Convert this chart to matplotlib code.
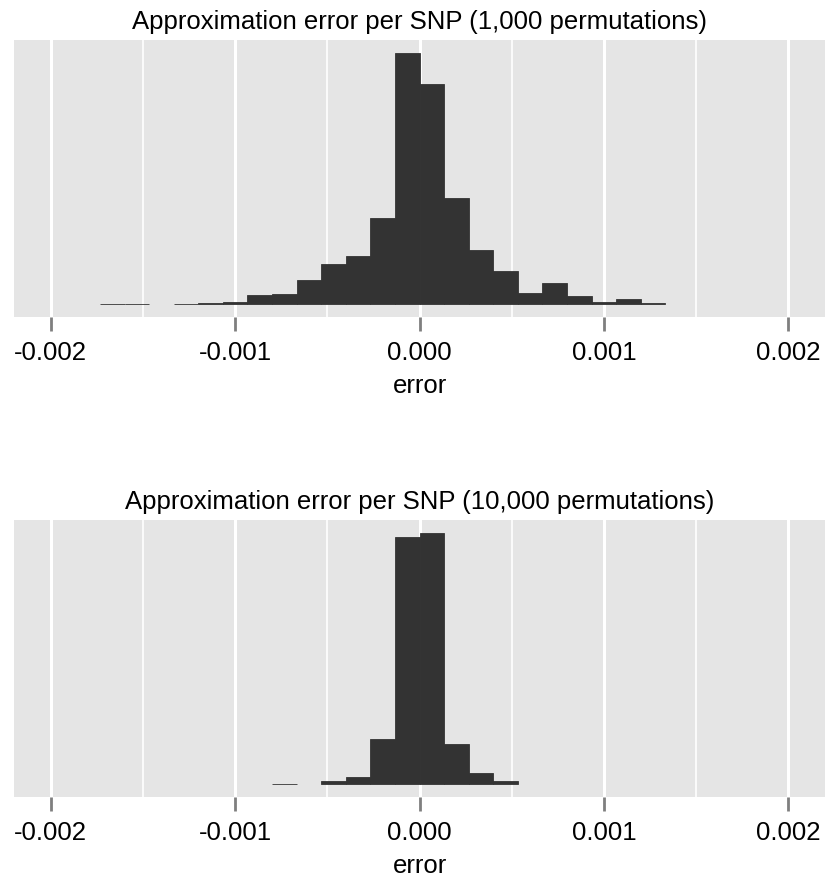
import numpy as np
import matplotlib.pyplot as plt

plt.rcParams['font.family'] = ['Liberation Sans', 'DejaVu Sans']

# histogram setup: 30 bins spanning -0.002 .. 0.002
bin_lo = -0.002
bin_hi = 0.002
n_bins = 30

# counts per bin
counts_1k = [0, 0, 1, 1, 0, 1, 3, 6, 28, 31, 72, 122, 146, 257, 753,
             658, 317, 163, 100, 33, 64, 24, 6, 16, 3, 0, 0, 0, 0, 0]
counts_10k = [0, 0, 0, 0, 0, 0, 0, 0, 0, 1, 0, 9, 22, 137, 743,
              755, 120, 34, 9, 0, 0, 0, 0, 0, 0, 0, 0, 0, 0, 0]

titles = ['Approximation error per SNP (1,000 permutations)',
          'Approximation error per SNP (10,000 permutations)']
major_ticks = [-0.002, -0.001, 0.0, 0.001, 0.002]
minor_ticks = [-0.0015, -0.0005, 0.0005, 0.0015]
tick_labels = ['-0.002', '-0.001', '0.000', '0.001', '0.002']

fig = plt.figure(figsize=(8.25, 8.8), dpi=100)
edges = np.linspace(bin_lo, bin_hi, n_bins + 1)
width = edges[1] - edges[0]

panel_pos = [[14 / 825, 1 - 317 / 880, 1 - 14 / 825, 277 / 880],
             [14 / 825, 1 - 797 / 880, 1 - 14 / 825, 277 / 880]]

for pos, counts, title in zip(panel_pos, [counts_1k, counts_10k], titles):
    ax = fig.add_axes(pos)
    ax.set_facecolor('#E5E5E5')
    c = np.array(counts, dtype=float)
    keep = c > 0
    ax.bar(edges[:-1][keep], c[keep], width=width, align='edge',
           color='#333333', edgecolor='#333333', linewidth=0.6, zorder=3)

    for x in major_ticks:
        ax.axvline(x, color='white', lw=2.2, zorder=1)
    for x in minor_ticks:
        ax.axvline(x, color='white', lw=1.2, zorder=1)

    span = bin_hi - bin_lo
    ax.set_xlim(bin_lo - 0.05 * span, bin_hi + 0.05 * span)
    m = c.max()
    ax.set_ylim(-0.05 * m, 1.05 * m)

    ax.set_xticks(major_ticks)
    ax.set_xticklabels(tick_labels, fontsize=18.5)
    ax.set_yticks([])
    ax.tick_params(axis='x', length=10, width=2, color='#7F7F7F', pad=7,
                   labelcolor='black')
    for s in ax.spines.values():
        s.set_visible(False)

    ax.set_title(title, fontsize=18.5, pad=8)
    ax.set_xlabel('error', fontsize=18.5, labelpad=7)

fig.savefig('out.png', dpi=100)
